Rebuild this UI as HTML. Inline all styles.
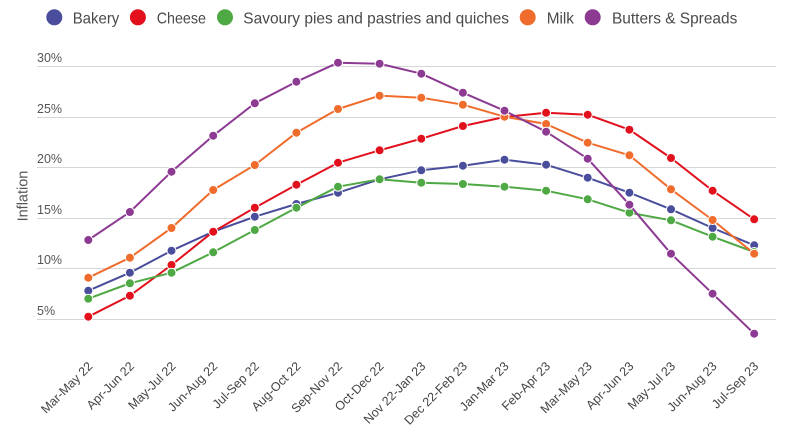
<!DOCTYPE html>
<html>
<head>
<meta charset="utf-8">
<style>
html,body{margin:0;padding:0;background:#fff;}
svg{display:block;font-family:"Liberation Sans",Arial,sans-serif;}
</style>
</head>
<body>
<svg width="796" height="432" viewBox="0 0 796 432" xmlns="http://www.w3.org/2000/svg">
<rect width="796" height="432" fill="#fff"/>
<!-- legend -->
<g font-size="16" fill="#4a4a4a">
<circle cx="54.3" cy="17.3" r="8" fill="#4a4d9c"/>
<text x="72.7" y="23.3" textLength="46.6" lengthAdjust="spacingAndGlyphs">Bakery</text>
<circle cx="137.9" cy="17.3" r="8" fill="#e2101d"/>
<text x="156.7" y="23.3" textLength="49.3" lengthAdjust="spacingAndGlyphs">Cheese</text>
<circle cx="225" cy="17.3" r="8" fill="#4ea843"/>
<text x="243.3" y="23.3" textLength="265.7" lengthAdjust="spacingAndGlyphs">Savoury pies and pastries and quiches</text>
<circle cx="527.7" cy="17.3" r="8" fill="#ef6c2c"/>
<text x="546.7" y="23.3" textLength="27.3" lengthAdjust="spacingAndGlyphs">Milk</text>
<circle cx="592.7" cy="17.3" r="8" fill="#8c3a92"/>
<text x="612" y="23.3" textLength="125.3" lengthAdjust="spacingAndGlyphs">Butters &amp; Spreads</text>
</g>
<!-- grid -->
<g stroke="#d6d6d6" stroke-width="1">
<line x1="37" x2="776" y1="66.5" y2="66.5"/>
<line x1="37" x2="776" y1="117.5" y2="117.5"/>
<line x1="37" x2="776" y1="167.5" y2="167.5"/>
<line x1="37" x2="776" y1="218.5" y2="218.5"/>
<line x1="37" x2="776" y1="268.5" y2="268.5"/>
<line x1="37" x2="776" y1="319.5" y2="319.5"/>
</g>
<g font-size="12.5" fill="#555">
<text x="37" y="62">30%</text>
<text x="37" y="113">25%</text>
<text x="37" y="163">20%</text>
<text x="37" y="214">15%</text>
<text x="37" y="264">10%</text>
<text x="37" y="315">5%</text>
</g>
<text x="27.3" y="196" font-size="14.5" fill="#555" text-anchor="middle" transform="rotate(-90 27.3 196)">Inflation</text>
<!-- x labels -->
<g font-size="12.5" fill="#444" text-anchor="end">
<text x="93.3" y="367" transform="rotate(-45 93.3 367)">Mar-May 22</text>
<text x="134.9" y="367" transform="rotate(-45 134.9 367)">Apr-Jun 22</text>
<text x="176.5" y="367" transform="rotate(-45 176.5 367)">May-Jul 22</text>
<text x="218.2" y="367" transform="rotate(-45 218.2 367)">Jun-Aug 22</text>
<text x="259.8" y="367" transform="rotate(-45 259.8 367)">Jul-Sep 22</text>
<text x="301.4" y="367" transform="rotate(-45 301.4 367)">Aug-Oct 22</text>
<text x="343" y="367" transform="rotate(-45 343 367)">Sep-Nov 22</text>
<text x="384.6" y="367" transform="rotate(-45 384.6 367)">Oct-Dec 22</text>
<text x="426.3" y="367" transform="rotate(-45 426.3 367)">Nov 22-Jan 23</text>
<text x="467.9" y="367" transform="rotate(-45 467.9 367)">Dec 22-Feb 23</text>
<text x="509.5" y="367" transform="rotate(-45 509.5 367)">Jan-Mar 23</text>
<text x="551.1" y="367" transform="rotate(-45 551.1 367)">Feb-Apr 23</text>
<text x="592.7" y="367" transform="rotate(-45 592.7 367)">Mar-May 23</text>
<text x="634.4" y="367" transform="rotate(-45 634.4 367)">Apr-Jun 23</text>
<text x="676" y="367" transform="rotate(-45 676 367)">May-Jul 23</text>
<text x="717.6" y="367" transform="rotate(-45 717.6 367)">Jun-Aug 23</text>
<text x="759.2" y="367" transform="rotate(-45 759.2 367)">Jul-Sep 23</text>
</g>
<!-- series -->
<g fill="none" stroke-width="2" stroke-linejoin="round">
<polyline stroke="#4a4d9c" points="88.3,290.7 129.9,272.7 171.5,250.7 213.2,231.7 254.8,216.7 296.4,204 338,192.7 379.6,179.3 421.3,170.3 462.9,165.7 504.5,159.7 546.1,164.7 587.7,177.7 629.4,192.7 671,209.3 712.6,228 754.2,245.3"/>
</g>
<g fill="#4a4d9c" stroke="#fff" stroke-width="1">
<circle cx="88.3" cy="290.7" r="4.5"/><circle cx="129.9" cy="272.7" r="4.5"/><circle cx="171.5" cy="250.7" r="4.5"/><circle cx="213.2" cy="231.7" r="4.5"/><circle cx="254.8" cy="216.7" r="4.5"/><circle cx="296.4" cy="204" r="4.5"/><circle cx="338" cy="192.7" r="4.5"/><circle cx="379.6" cy="179.3" r="4.5"/><circle cx="421.3" cy="170.3" r="4.5"/><circle cx="462.9" cy="165.7" r="4.5"/><circle cx="504.5" cy="159.7" r="4.5"/><circle cx="546.1" cy="164.7" r="4.5"/><circle cx="587.7" cy="177.7" r="4.5"/><circle cx="629.4" cy="192.7" r="4.5"/><circle cx="671" cy="209.3" r="4.5"/><circle cx="712.6" cy="228" r="4.5"/><circle cx="754.2" cy="245.3" r="4.5"/>
</g>
<g fill="none" stroke-width="2" stroke-linejoin="round">
<polyline stroke="#e2101d" points="88.3,316.7 129.9,295.7 171.5,265 213.2,231.7 254.8,207.7 296.4,184.7 338,162.7 379.6,150.3 421.3,138.7 462.9,126 504.5,117 546.1,112.7 587.7,114.7 629.4,129.7 671,158 712.6,190.7 754.2,219.3"/>
</g>
<g fill="#e2101d" stroke="#fff" stroke-width="1">
<circle cx="88.3" cy="316.7" r="4.5"/><circle cx="129.9" cy="295.7" r="4.5"/><circle cx="171.5" cy="265" r="4.5"/><circle cx="213.2" cy="231.7" r="4.5"/><circle cx="254.8" cy="207.7" r="4.5"/><circle cx="296.4" cy="184.7" r="4.5"/><circle cx="338" cy="162.7" r="4.5"/><circle cx="379.6" cy="150.3" r="4.5"/><circle cx="421.3" cy="138.7" r="4.5"/><circle cx="462.9" cy="126" r="4.5"/><circle cx="504.5" cy="117" r="4.5"/><circle cx="546.1" cy="112.7" r="4.5"/><circle cx="587.7" cy="114.7" r="4.5"/><circle cx="629.4" cy="129.7" r="4.5"/><circle cx="671" cy="158" r="4.5"/><circle cx="712.6" cy="190.7" r="4.5"/><circle cx="754.2" cy="219.3" r="4.5"/>
</g>
<g fill="none" stroke-width="2" stroke-linejoin="round">
<polyline stroke="#4ea843" points="88.3,298.7 129.9,283.3 171.5,272.7 213.2,252.3 254.8,230 296.4,207.7 338,186.7 379.6,179.3 421.3,182.7 462.9,184 504.5,186.7 546.1,190.7 587.7,199.3 629.4,212.7 671,220.3 712.6,236.7 754.2,252"/>
</g>
<g fill="#4ea843" stroke="#fff" stroke-width="1">
<circle cx="88.3" cy="298.7" r="4.5"/><circle cx="129.9" cy="283.3" r="4.5"/><circle cx="171.5" cy="272.7" r="4.5"/><circle cx="213.2" cy="252.3" r="4.5"/><circle cx="254.8" cy="230" r="4.5"/><circle cx="296.4" cy="207.7" r="4.5"/><circle cx="338" cy="186.7" r="4.5"/><circle cx="379.6" cy="179.3" r="4.5"/><circle cx="421.3" cy="182.7" r="4.5"/><circle cx="462.9" cy="184" r="4.5"/><circle cx="504.5" cy="186.7" r="4.5"/><circle cx="546.1" cy="190.7" r="4.5"/><circle cx="587.7" cy="199.3" r="4.5"/><circle cx="629.4" cy="212.7" r="4.5"/><circle cx="671" cy="220.3" r="4.5"/><circle cx="712.6" cy="236.7" r="4.5"/><circle cx="754.2" cy="252" r="4.5"/>
</g>
<g fill="none" stroke-width="2" stroke-linejoin="round">
<polyline stroke="#ef6c2c" points="88.3,277.7 129.9,257.7 171.5,228 213.2,190 254.8,165 296.4,132.7 338,109 379.6,95.7 421.3,97.7 462.9,104.7 504.5,116.7 546.1,124 587.7,142.7 629.4,155.3 671,189.3 712.6,220 754.2,253.7"/>
</g>
<g fill="#ef6c2c" stroke="#fff" stroke-width="1">
<circle cx="88.3" cy="277.7" r="4.5"/><circle cx="129.9" cy="257.7" r="4.5"/><circle cx="171.5" cy="228" r="4.5"/><circle cx="213.2" cy="190" r="4.5"/><circle cx="254.8" cy="165" r="4.5"/><circle cx="296.4" cy="132.7" r="4.5"/><circle cx="338" cy="109" r="4.5"/><circle cx="379.6" cy="95.7" r="4.5"/><circle cx="421.3" cy="97.7" r="4.5"/><circle cx="462.9" cy="104.7" r="4.5"/><circle cx="504.5" cy="116.7" r="4.5"/><circle cx="546.1" cy="124" r="4.5"/><circle cx="587.7" cy="142.7" r="4.5"/><circle cx="629.4" cy="155.3" r="4.5"/><circle cx="671" cy="189.3" r="4.5"/><circle cx="712.6" cy="220" r="4.5"/><circle cx="754.2" cy="253.7" r="4.5"/>
</g>
<g fill="none" stroke-width="2" stroke-linejoin="round">
<polyline stroke="#8c3a92" points="88.3,240 129.9,212 171.5,171.7 213.2,135.7 254.8,103.3 296.4,81.7 338,62.7 379.6,63.7 421.3,73.7 462.9,92.7 504.5,110.7 546.1,131.7 587.7,158.7 629.4,204.7 671,253.7 712.6,293.7 754.2,333.7"/>
</g>
<g fill="#8c3a92" stroke="#fff" stroke-width="1">
<circle cx="88.3" cy="240" r="4.5"/><circle cx="129.9" cy="212" r="4.5"/><circle cx="171.5" cy="171.7" r="4.5"/><circle cx="213.2" cy="135.7" r="4.5"/><circle cx="254.8" cy="103.3" r="4.5"/><circle cx="296.4" cy="81.7" r="4.5"/><circle cx="338" cy="62.7" r="4.5"/><circle cx="379.6" cy="63.7" r="4.5"/><circle cx="421.3" cy="73.7" r="4.5"/><circle cx="462.9" cy="92.7" r="4.5"/><circle cx="504.5" cy="110.7" r="4.5"/><circle cx="546.1" cy="131.7" r="4.5"/><circle cx="587.7" cy="158.7" r="4.5"/><circle cx="629.4" cy="204.7" r="4.5"/><circle cx="671" cy="253.7" r="4.5"/><circle cx="712.6" cy="293.7" r="4.5"/><circle cx="754.2" cy="333.7" r="4.5"/>
</g>
</svg>
</body>
</html>
